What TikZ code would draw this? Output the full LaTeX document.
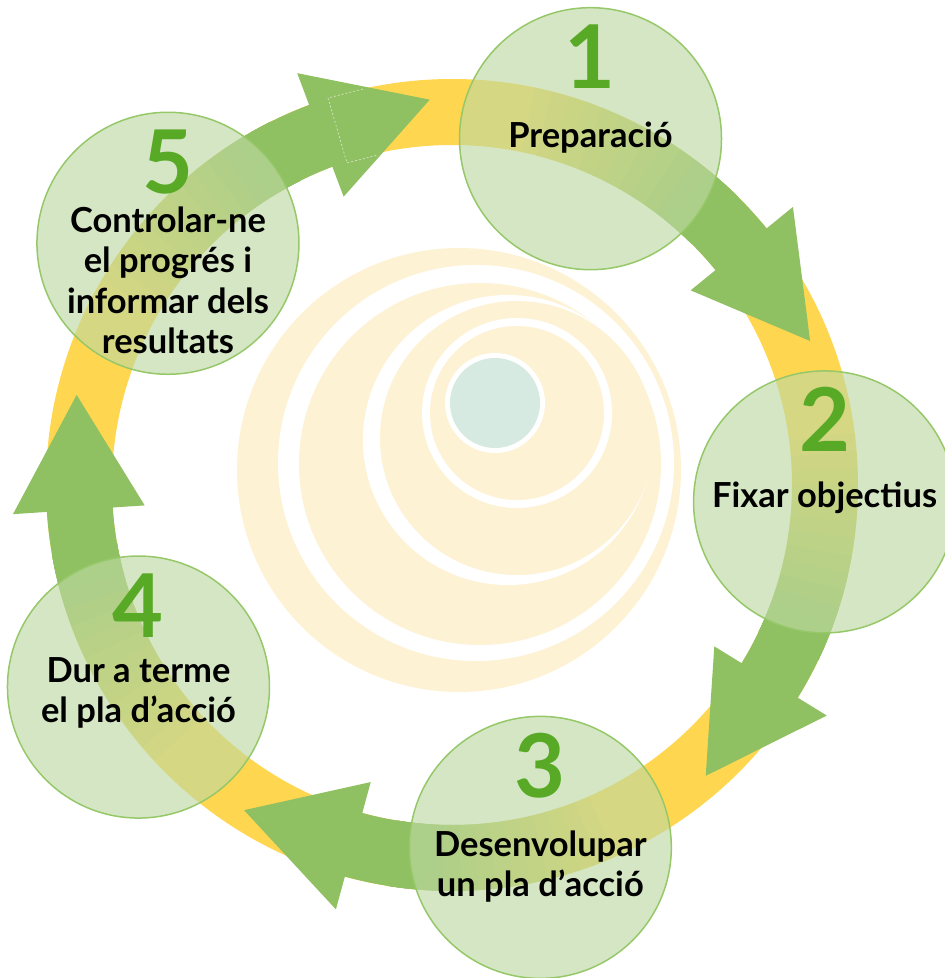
\documentclass[tikz,border=0pt]{standalone}
\usepackage{fontspec}
\setmainfont{Lato}
\usepackage{tikz}

\definecolor{ringyellow}{RGB}{255,214,80}
\definecolor{arrowgreen}{RGB}{143,192,98}
\definecolor{stepfill}{RGB}{189,216,162}
\definecolor{stepline}{RGB}{150,200,105}
\definecolor{numgreen}{RGB}{88,170,38}
\definecolor{swirl}{RGB}{254,242,213}
\definecolor{hub}{RGB}{214,234,226}

\tikzset{
  stepcircle/.style={circle, minimum size=262pt, inner sep=0pt, fill=stepfill, fill opacity=0.63, draw=stepline, line width=1.5pt},
  stepnum/.style={anchor=base, inner sep=0pt, text=numgreen, font=\fontsize{88}{88}\selectfont\bfseries},
  steplabel/.style={anchor=north, inner sep=0pt, align=center, font=\fontsize{34.5}{40.5}\selectfont\bfseries}
}

\begin{document}
\begin{tikzpicture}[x=1pt, y=1pt]
\useasboundingbox (-452,-493) rectangle (493,485);

% Swirl in the middle
\foreach \cx/\cy/\r/\col in {7/15/222/swirl, 24/22/198/white, 28/21/181/swirl, 56/45/145/white, 65/47/137/swirl, 65/72/95/white, 65/72/87/swirl, 43/82/50/white, 43/82/45/hub} {
    \fill[\col] (\cx,\cy) circle (\r);
}

% Ring
\fill[ringyellow, even odd rule] (0,0) circle (406) (0,0) circle (340);

% Arrows (fading in from the step before)
\foreach \a in {68.2, -2.6, -76.3, -147.2, 139.6} {
    \foreach \i in {1,...,12} {
        \pgfmathsetmacro\s{\a+10-(\i-1)*2.5}
        \pgfmathsetmacro\op{1/(13-\i)}
        \fill[arrowgreen, fill opacity=\op] (\s:406) arc[start angle=\s, end angle=\a-23, radius=406] -- ({\a-23}:340) arc[start angle=\a-23, end angle=\s, radius=340] -- cycle;
    }
    \fill[arrowgreen] ({\a-20}:406) arc[start angle=\a-20, end angle=\a-29, radius=406] -- ({\a-29}:440) -- ({\a-46.3}:386) -- ({\a-29}:308) -- ({\a-29}:340) arc[start angle=\a-29, end angle=\a-20, radius=340] -- cycle;
}
\draw[white, opacity=0.7, line width=0.6pt, dash pattern=on 2pt off 2pt] (-89,396) -- (-124,387) -- (-105,322) -- (-74,330);

% Steps
\foreach \n/\a/\dy/\txt in {1/68.2/17/Preparació, 2/-2.6/20/Fixar objectius, 3/-76.3/17/{Desenvolupar\\un pla d’acció}, 4/-147.2/30/{Dur a terme\\el pla d’acció}, 5/139.6/37/{Controlar-ne\\el progrés i\\informar dels\\resultats}} {
    \node[stepcircle] (s\n) at (\a:373) {};
    \node[stepnum] (n\n) at ([yshift=50pt]s\n.center) {\n};
    \node[steplabel] (l\n) at ([yshift=\dy pt]s\n.center) {\txt};
}
\end{tikzpicture}
\end{document}
